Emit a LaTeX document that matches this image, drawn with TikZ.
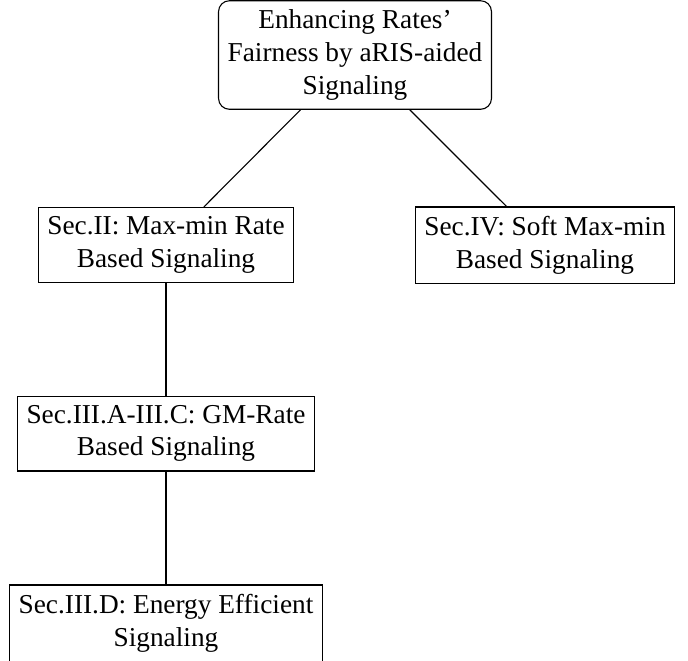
\documentclass[tikz,border=0pt]{standalone}
\usepackage{fontspec}
\setmainfont{Liberation Serif}
\begin{document}
\begin{tikzpicture}[x=0.3663pt,y=-0.3663pt,
  box/.style={draw, align=center, font=\fontsize{10}{12}\selectfont, inner sep=0.3333em},
  rbox/.style={box, rounded corners=4pt},
  link/.style={draw, line width=0.4pt}]
\useasboundingbox (0,0) rectangle (688,660);
\node[rbox] (top) at (355,55) {Enhancing Rates'\\Fairness by aRIS-aided\\Signaling};
\node[box] (s2) at (166,245) {Sec.II: Max-min Rate\\Based Signaling};
\node[box] (s4) at (545,245) {Sec.IV: Soft Max-min\\Based Signaling};
\node[box] (s3) at (166,433.5) {Sec.III.A-III.C: GM-Rate\\Based Signaling};
\node[box] (s3d) at (166,623) {Sec.III.D: Energy Efficient\\Signaling};
\path[link] (top) -- (s2);
\path[link] (top) -- (s4);
\path[link] (s2) -- (s3);
\path[link] (s3) -- (s3d);
\end{tikzpicture}
\end{document}
